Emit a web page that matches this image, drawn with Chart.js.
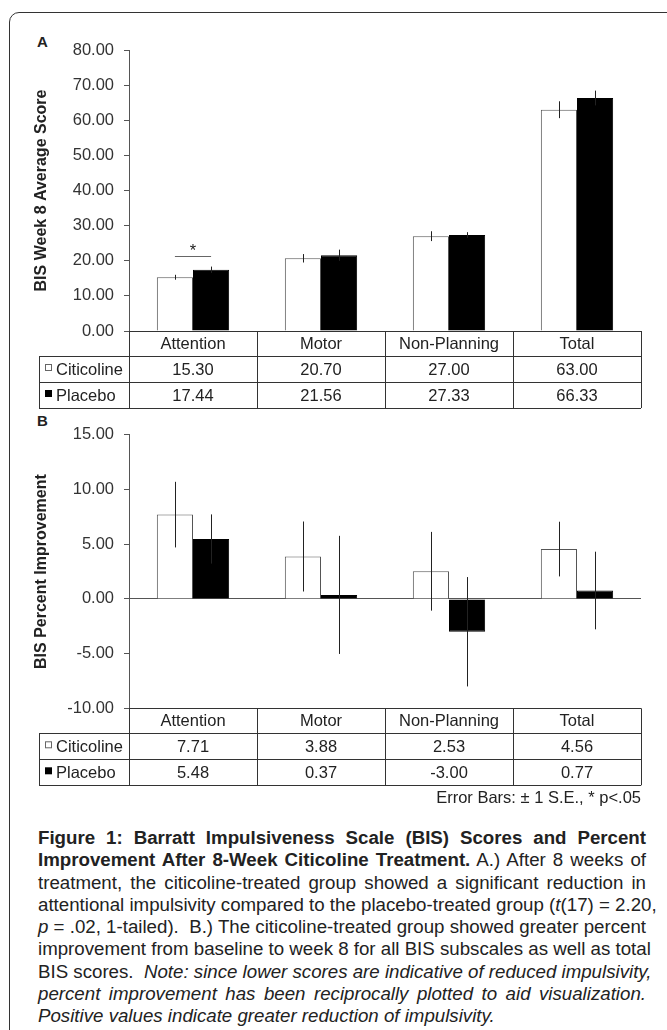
<!DOCTYPE html>
<html>
<head>
<meta charset="utf-8">
<script src="https://cdn.jsdelivr.net/npm/chart.js@4.4.1/dist/chart.umd.min.js"></script>
<style>
  body { margin: 0; background: #fff; font-family: "Liberation Sans", Arial, sans-serif; color: #222; }
  #page { position: relative; width: 667px; height: 1030px; overflow: hidden; }
  #frame { position: absolute; left: 9px; top: 12px; width: 720px; height: 1100px;
           border: 1px solid #333; border-radius: 10px; }
  canvas { position: absolute; left: 0; }
  #chartA { top: 0; }
  #chartB { top: 415px; }
  .panel { position: absolute; font-weight: bold; font-size: 15px; line-height: 16px; }
  #caption { position: absolute; left: 38px; top: 827px; width: 608px;
             font-size: 18.7px; line-height: 22.3px; }
  #caption div { text-align: justify; text-align-last: justify; white-space: nowrap; }
  #caption div.last { text-align-last: left; }
</style>
</head>
<body>
<div id="page">
  <div id="frame"></div>
  <div class="panel" style="left:37px;top:34px">A</div>
  <div class="panel" style="left:37px;top:413px">B</div>
  <canvas id="chartA" width="667" height="415"></canvas>
  <canvas id="chartB" width="667" height="400"></canvas>
  <div id="caption">
    <div><b>Figure 1: Barratt Impulsiveness Scale (BIS) Scores and Percent</b></div>
    <div><b>Improvement After 8-Week Citicoline Treatment.</b> A.) After 8 weeks of</div>
    <div>treatment, the citicoline-treated group showed a significant reduction in</div>
    <div>attentional impulsivity compared to the placebo-treated group (<i>t</i>(17) = 2.20,</div>
    <div><i>p</i> = .02, 1-tailed).&nbsp; B.) The citicoline-treated group showed greater percent</div>
    <div>improvement from baseline to week 8 for all BIS subscales as well as total</div>
    <div>BIS scores.&nbsp; <i>Note: since lower scores are indicative of reduced impulsivity,</i></div>
    <div><i>percent improvement has been reciprocally plotted to aid visualization.</i></div>
    <div class="last"><i>Positive values indicate greater reduction of impulsivity.</i></div>
  </div>
</div>
<script>
  // ── data ────────────────────────────────────────────────────────────────
  const categories = ['Attention', 'Motor', 'Non-Planning', 'Total'];
  const groups = ['Citicoline', 'Placebo'];

  // A: week 8 average score
  const scoreCiticoline = [15.30, 20.70, 27.00, 63.00];
  const scorePlacebo = [17.44, 21.56, 27.33, 66.33];
  const scoreCiticolineSE = [0.7, 1.2, 1.4, 2.4];
  const scorePlaceboSE = [0.9, 1.6, 0.8, 2.1];
  const scoreTicks = [0, 10, 20, 30, 40, 50, 60, 70, 80];

  // B: percent improvement
  const improveCiticoline = [7.71, 3.88, 2.53, 4.56];
  const improvePlacebo = [5.48, 0.37, -3.00, 0.77];
  const improveCiticolineSE = [3.0, 3.2, 3.6, 2.5];
  const improvePlaceboSE = [2.25, 5.4, 5.0, 3.55];
  const improveTicks = [-10, -5, 0, 5, 10, 15];

  // ── look ────────────────────────────────────────────────────────────────
  const FONT = '"Liberation Sans", Arial, sans-serif';
  const INK = '#222';
  const AXIS = '#555';
  const RULE = '#333';
  const TEXT_PX = 16.5;

  /* draws the value table under the plot, columns taken from the x scale */
  const tablePlugin = {
    id: 'dataTable',
    afterDraw(chart, args, opts) {
      const { ctx, chartArea: area, scales: { x } } = chart;
      const half = (x.getPixelForValue(1) - x.getPixelForValue(0)) / 2;
      const edges = categories.map((c, i) => x.getPixelForValue(i) - half);
      edges.push(area.right);
      const top = area.bottom;
      const rows = [top + opts.headH, top + opts.headH + opts.rowH, top + opts.headH + 2 * opts.rowH];
      const left = area.left - opts.legendW;
      const px = v => Math.round(v) + 0.5;

      ctx.save();
      ctx.strokeStyle = RULE;
      ctx.lineWidth = 1;
      ctx.beginPath();
      ctx.moveTo(area.left, px(top)); ctx.lineTo(area.right, px(top));
      rows.forEach(r => { ctx.moveTo(left, px(r)); ctx.lineTo(area.right, px(r)); });
      edges.forEach(e => { ctx.moveTo(px(e), top); ctx.lineTo(px(e), rows[2]); });
      ctx.moveTo(px(left), rows[0]); ctx.lineTo(px(left), rows[2]);
      ctx.stroke();

      ctx.fillStyle = INK;
      ctx.font = TEXT_PX + 'px ' + FONT;
      ctx.textBaseline = 'middle';
      ctx.textAlign = 'center';
      categories.forEach((c, i) => ctx.fillText(c, x.getPixelForValue(i), top + opts.headH / 2 + 1));

      opts.values.forEach((vals, r) => {
        const cy = rows[r] + opts.rowH / 2 + 1;
        ctx.textAlign = 'center';
        ctx.fillStyle = INK;
        vals.forEach((v, i) => ctx.fillText(v.toFixed(2), x.getPixelForValue(i), cy));
        // legend swatch + group name
        const sx = left + 6, sy = cy - 6;
        if (r === 0) {
          ctx.fillStyle = '#fff';
          ctx.fillRect(sx, sy, 7, 7);
          ctx.strokeStyle = '#666';
          ctx.strokeRect(sx + 0.5, sy + 0.5, 6, 6);
        } else {
          ctx.fillStyle = '#000';
          ctx.fillRect(sx, sy, 7, 7);
        }
        ctx.fillStyle = INK;
        ctx.textAlign = 'left';
        ctx.fillText(groups[r], left + 17, cy);
      });

      if (opts.note) {
        ctx.textAlign = 'right';
        ctx.fillText(opts.note, area.right, rows[2] + 13);
      }
      ctx.restore();
    }
  };

  /* ±1 SE error bars, plain vertical lines through each bar centre */
  const errorBarPlugin = {
    id: 'errorBars',
    afterDatasetsDraw(chart, args, opts) {
      const { ctx, scales: { y } } = chart;
      ctx.save();
      ctx.strokeStyle = INK;
      ctx.lineWidth = 1;
      chart.data.datasets.forEach((ds, di) => {
        chart.getDatasetMeta(di).data.forEach((bar, i) => {
          const v = ds.data[i], e = opts.errors[di][i];
          const bx = Math.round(bar.x) + 0.5;
          ctx.beginPath();
          ctx.moveTo(bx, y.getPixelForValue(v + e));
          ctx.lineTo(bx, y.getPixelForValue(v - e));
          ctx.stroke();
        });
      });
      ctx.restore();
    }
  };

  /* significance bracket: line between the two bars of one category and a star */
  const sigPlugin = {
    id: 'significance',
    afterDatasetsDraw(chart, args, opts) {
      if (!opts.marks) return;
      const { ctx, scales: { y } } = chart;
      ctx.save();
      opts.marks.forEach(m => {
        const a = chart.getDatasetMeta(0).data[m.index].x;
        const b = chart.getDatasetMeta(1).data[m.index].x;
        const ly = Math.round(y.getPixelForValue(m.value)) + 0.5;
        ctx.strokeStyle = '#666';
        ctx.lineWidth = 1;
        ctx.beginPath(); ctx.moveTo(a, ly); ctx.lineTo(b, ly); ctx.stroke();
        ctx.fillStyle = INK;
        ctx.font = TEXT_PX + 'px ' + FONT;
        ctx.textAlign = 'center';
        ctx.textBaseline = 'alphabetic';
        ctx.fillText('*', (a + b) / 2, ly - 1);
      });
      ctx.restore();
    }
  };

  function makeChart(id, cfg) {
    return new Chart(document.getElementById(id), {
      type: 'bar',
      data: {
        labels: categories,
        datasets: [
          { label: groups[0], data: cfg.citicoline, backgroundColor: '#fff', borderColor: '#555', borderWidth: 1 },
          { label: groups[1], data: cfg.placebo, backgroundColor: '#000', borderColor: '#000', borderWidth: 1 }
        ]
      },
      options: {
        responsive: false,
        animation: false,
        layout: { padding: cfg.padding },
        datasets: { bar: { barPercentage: 1, categoryPercentage: 0.565 } },
        plugins: {
          legend: { display: false },
          tooltip: { enabled: false },
          dataTable: { values: [cfg.citicoline, cfg.placebo], headH: 25, rowH: 26, legendW: 90, note: cfg.note },
          errorBars: { errors: cfg.errors },
          significance: { marks: cfg.marks }
        },
        scales: {
          x: { display: false },
          y: {
            min: cfg.ticks[0],
            max: cfg.ticks[cfg.ticks.length - 1],
            afterBuildTicks: s => { s.ticks = cfg.ticks.map(v => ({ value: v })); },
            afterFit: s => { s.width = 129 - cfg.padding.left; },
            border: { display: true, color: AXIS, width: 1 },
            grid: {
              drawOnChartArea: cfg.zeroLine,
              color: c => (c.tick && c.tick.value === 0 ? AXIS : 'rgba(0,0,0,0)'),
              tickColor: AXIS,
              tickLength: 5
            },
            ticks: {
              padding: 10,
              color: '#333',
              font: { family: FONT, size: TEXT_PX },
              callback: v => Number(v).toFixed(2)
            },
            title: {
              display: true,
              text: cfg.title,
              color: INK,
              padding: 0,
              font: { family: FONT, size: 16, weight: 'bold' }
            }
          }
        }
      },
      plugins: [errorBarPlugin, sigPlugin, tablePlugin]
    });
  }

  makeChart('chartA', {
    citicoline: scoreCiticoline,
    placebo: scorePlacebo,
    errors: [scoreCiticolineSE, scorePlaceboSE],
    ticks: scoreTicks,
    title: 'BIS Week 8 Average Score',
    padding: { left: 31.7, right: 26, top: 50, bottom: 84 },
    zeroLine: false,
    marks: [{ index: 0, value: 21.3 }]
  });

  makeChart('chartB', {
    citicoline: improveCiticoline,
    placebo: improvePlacebo,
    errors: [improveCiticolineSE, improvePlaceboSE],
    ticks: improveTicks,
    title: 'BIS Percent Improvement',
    padding: { left: 31.7, right: 26, top: 11.3, bottom: 106.7 },
    zeroLine: true,
    note: 'Error Bars: \u00b1 1 S.E., * p<.05'
  });
</script>
</body>
</html>
